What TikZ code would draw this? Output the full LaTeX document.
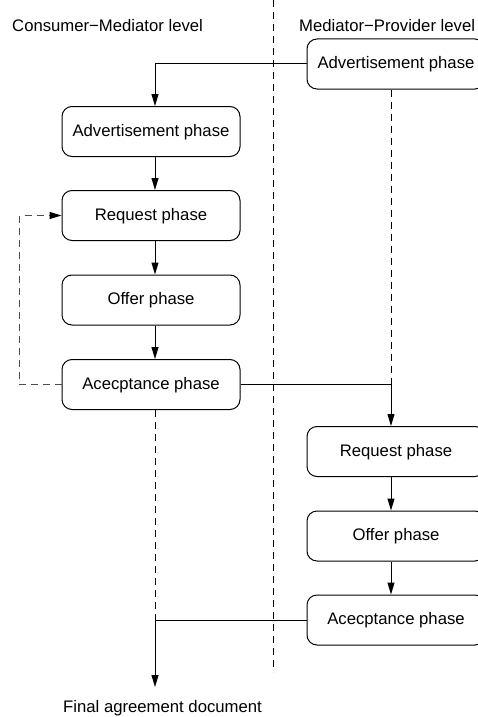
\documentclass[tikz,border=0pt]{standalone}
\usepackage{fontspec}
\setmainfont{Liberation Sans}
\usetikzlibrary{arrows.meta}
\begin{document}
\begin{tikzpicture}[x=1pt,y=-1pt,
  every node/.style={font=\fontsize{16.7}{20}\selectfont, inner sep=0pt},
  phase/.style={draw, line width=1pt, rounded corners=10pt, minimum width=178pt,
    minimum height=50pt, text height=12pt, text depth=2.6pt},
  flow/.style={line width=1pt, -{Triangle[length=12pt,width=7pt]}},
  link/.style={line width=1pt},
  guide/.style={line width=1pt, dash pattern=on 7pt off 5pt},
  back/.style={line width=1pt, black!70, dash pattern=on 7pt off 5pt,
    -{Triangle[length=12pt,width=7pt,color=black]}}]
\clip (0,0) rectangle (478,717);

% column headings
\node[anchor=base west] (t1) at (12,32) {Consumer−Mediator level};
\node[anchor=base west] (t2) at (299,32) {Mediator−Provider level};

% separator between the two levels
\coordinate (s1) at (273,0);
\coordinate (s2) at (273,672);
\draw[guide] (s1) -- (s2);

% consumer-mediator phases
\node[phase] (la) at (151,131.5) {Advertisement phase};
\node[phase] (lr) at (151,215.5) {Request phase};
\node[phase] (lo) at (151,300) {Offer phase};
\node[phase] (lc) at (151,384.5) {Acecptance phase};

% mediator-provider phases
\node[phase] (ra) at (396,64) {Advertisement phase};
\node[phase] (rr) at (396,451.5) {Request phase};
\node[phase] (ro) at (396,536) {Offer phase};
\node[phase] (rc) at (396,620) {Acecptance phase};

\node[anchor=base west] (fin) at (63,712) {Final agreement document};

% junction points
\coordinate (j1) at (391,384.5);
\coordinate (j2) at (155,620);
\coordinate (end) at (155,687);

% provider advertisement feeds the consumer side
\draw[flow] (ra.west) -| ([xshift=4pt]la.north);

% consumer-mediator sequence
\draw[flow] ([xshift=4pt]la.south) -- ([xshift=4pt]lr.north);
\draw[flow] ([xshift=4pt]lr.south) -- ([xshift=4pt]lo.north);
\draw[flow] ([xshift=4pt]lo.south) -- ([xshift=4pt]lc.north);
\draw[back] (lc.west) -- ++(-42,0) |- (lr.west);

% acceptance triggers the provider negotiation
\draw[guide] ([xshift=-5pt]ra.south) -- (j1);
\draw[link] (lc.east) -- (j1);
\draw[flow] (j1) -- ([xshift=-5pt]rr.north);
\draw[flow] ([xshift=-5pt]rr.south) -- ([xshift=-5pt]ro.north);
\draw[flow] ([xshift=-5pt]ro.south) -- ([xshift=-5pt]rc.north);

% both acceptances lead to the final document
\draw[guide] ([xshift=4pt]lc.south) -- (j2);
\draw[link] (rc.west) -- (j2);
\draw[flow] (j2) -- (end);
\end{tikzpicture}
\end{document}
